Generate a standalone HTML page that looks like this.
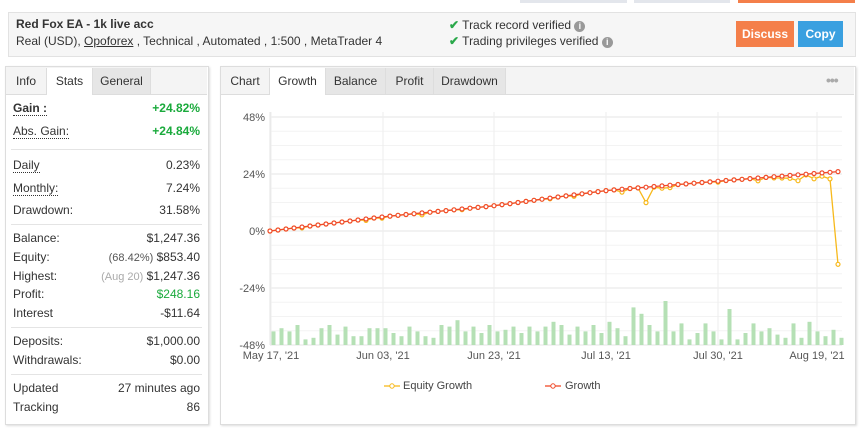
<!DOCTYPE html>
<html><head><meta charset="utf-8"><style>
body{margin:0;width:865px;height:432px;background:#fff;font-family:"Liberation Sans",sans-serif;font-size:12px;color:#333;position:relative;overflow:hidden}
.a{position:absolute}
.r{position:absolute;left:13px;width:187px;height:18px;line-height:18px}
.r span.v{position:absolute;right:0}
.u{border-bottom:1px dotted #333}
.hl{position:absolute;left:11px;width:191px;height:1px;background:#e4e4e4}
.tab{position:absolute;top:68px;height:26px;line-height:26px;text-align:center;font-size:12px;background:#e6e6e6;border-right:1px solid #ddd}
</style></head><body>
<div class="a" style="left:520px;top:0;width:107px;height:3px;background:#e3e6ec"></div>
<div class="a" style="left:634px;top:0;width:96px;height:3px;background:#e3e6ec"></div>
<div class="a" style="left:738px;top:0;width:117px;height:3px;background:#f47f4a"></div>

<div class="a" style="left:8px;top:12px;width:846px;height:43px;background:#f6f6f6;border:1px solid #e2e2e2"></div>
<div class="a" style="left:16px;top:17px;font-weight:bold;font-size:12px">Red Fox EA - 1k live acc</div>
<div class="a" style="left:16px;top:34px;font-size:12px">Real (USD), <span style="text-decoration:underline">Opoforex</span> , Technical , Automated , 1:500 , MetaTrader 4</div>
<div class="a" style="left:449px;top:18px;font-size:12px"><span style="color:#2aa84a;font-weight:bold">✔</span> Track record verified <span style="display:inline-block;width:11px;height:11px;border-radius:6px;background:#999;color:#fff;font-size:9px;text-align:center;line-height:11px;font-weight:bold">i</span></div>
<div class="a" style="left:449px;top:34px;font-size:12px"><span style="color:#2aa84a;font-weight:bold">✔</span> Trading privileges verified <span style="display:inline-block;width:11px;height:11px;border-radius:6px;background:#999;color:#fff;font-size:9px;text-align:center;line-height:11px;font-weight:bold">i</span></div>
<div class="a" style="left:736px;top:21px;width:58px;height:26px;background:#f47f4a;color:#fff;font-weight:bold;text-align:center;line-height:26px">Discuss</div>
<div class="a" style="left:798px;top:21px;width:45px;height:26px;background:#3aa0e0;color:#fff;font-weight:bold;text-align:center;line-height:26px">Copy</div>

<div class="a" style="left:5px;top:66px;width:202px;height:357px;border:1px solid #ddd;box-shadow:1px 1px 2px #ddd"></div>
<div class="a" style="left:6px;top:67px;width:201px;height:27px;background:#f4f4f4;border-bottom:1px solid #ddd"></div>
<div class="tab" style="left:6px;width:40px;background:#f4f4f4">Info</div>
<div class="tab" style="left:47px;width:45px;background:#fff;height:27px">Stats</div>
<div class="tab" style="left:93px;width:57px">General</div>

<div class="r" style="top:99px;font-weight:bold"><span class="u">Gain :</span><span class="v" style="color:#1aaa3c">+24.82%</span></div>
<div class="r" style="top:122px"><span class="u">Abs. Gain:</span><span class="v" style="color:#1aaa3c;font-weight:bold">+24.84%</span></div>
<div class="hl" style="top:149px"></div>
<div class="r" style="top:156px"><span class="u">Daily</span><span class="v">0.23%</span></div>
<div class="r" style="top:179px"><span class="u">Monthly:</span><span class="v">7.24%</span></div>
<div class="r" style="top:201px">Drawdown:<span class="v">31.58%</span></div>
<div class="hl" style="top:224px"></div>
<div class="r" style="top:229px">Balance:<span class="v">$1,247.36</span></div>
<div class="r" style="top:248px">Equity:<span class="v"><span style="font-size:11px;color:#555">(68.42%)</span> $853.40</span></div>
<div class="r" style="top:267px">Highest:<span class="v"><span style="font-size:11px;color:#aaa">(Aug 20)</span> $1,247.36</span></div>
<div class="r" style="top:285px">Profit:<span class="v" style="color:#1aaa3c">$248.16</span></div>
<div class="r" style="top:304px">Interest<span class="v">-$11.64</span></div>
<div class="hl" style="top:327px"></div>
<div class="r" style="top:332px">Deposits:<span class="v">$1,000.00</span></div>
<div class="r" style="top:351px">Withdrawals:<span class="v">$0.00</span></div>
<div class="hl" style="top:374px"></div>
<div class="r" style="top:379px">Updated<span class="v">27 minutes ago</span></div>
<div class="r" style="top:398px">Tracking<span class="v">86</span></div>

<div class="a" style="left:220px;top:66px;width:634px;height:357px;border:1px solid #ddd;box-shadow:1px 1px 2px #ddd"></div>
<div class="a" style="left:221px;top:67px;width:633px;height:27px;background:#f4f4f4;border-bottom:1px solid #ddd"></div>
<div class="tab" style="left:221px;width:48px;background:#f4f4f4">Chart</div>
<div class="tab" style="left:270px;width:55px;background:#fff;height:27px">Growth</div>
<div class="tab" style="left:326px;width:59px">Balance</div>
<div class="tab" style="left:386px;width:47px">Profit</div>
<div class="tab" style="left:434px;width:71px">Drawdown</div>
<div class="a" style="left:826px;top:72px;color:#aaa;font-size:14px;font-weight:bold;letter-spacing:-1px">•••</div>

<svg class="a" style="left:0;top:0" width="865" height="432" id="s" font-family="Liberation Sans, sans-serif"></svg>
<script>
var s=document.getElementById('s'),h='';
function Y(v){return 231-v*57/24}
var x0=270,x1=838;
for(var v=48;v>=-48;v-=6){var y=Y(v);h+='<line x1="'+x0+'" x2="'+(x1+4)+'" y1="'+y+'" y2="'+y+'" stroke="'+(v%24==0?'#e6e6e6':'#f3f3f3')+'"/>';}
[['48%',48],['24%',24],['0%',0],['-24%',-24],['-48%',-48]].forEach(function(t){h+='<text x="265" y="'+(Y(t[1])+4)+'" font-size="11" fill="#555" text-anchor="end">'+t[0]+'</text>'});
var lab=[['May 17, \'21',271],['Jun 03, \'21',383],['Jun 23, \'21',494],['Jul 13, \'21',606],['Jul 30, \'21',718],['Aug 19, \'21',817]];
lab.forEach(function(l){h+='<line x1="'+l[1]+'" x2="'+l[1]+'" y1="112" y2="345" stroke="#eee"/><text x="'+l[1]+'" y="359" font-size="11" fill="#555" text-anchor="middle">'+l[0]+'</text>'});
h+='<line x1="'+x0+'" x2="'+x0+'" y1="112" y2="345" stroke="#e6e6e6"/>';
var n=72,bars=[6,8,6,10,1,2,8,10,4,9,3,3,8,8,8,5,3,9,6,3,2,10,9,13,6,9,5,10,6,7,9,5,9,6,9,12,10,4,9,6,10,5,12,8,3,21,17,10,6,25,6,11,1,5,11,6,1,20,1,5,11,6,8,4,2,11,2,12,6,3,7,2,2];
for(var i=0;i<n;i++){var x=x0+(x1-x0)*i/(n-1);var b=(bars[i]||3)*1.6+4;h+='<rect x="'+(x+1.5)+'" y="'+(345-b)+'" width="4" height="'+b+'" fill="#b5e0b5"/>';}
var kn=[[0,0],[0.2,6],[0.39,10.5],[0.59,17],[0.79,21],[1,25]];
function gv(t){for(var j=1;j<kn.length;j++){if(t<=kn[j][0]){var a=kn[j-1],b=kn[j];return a[1]+(b[1]-a[1])*(t-a[0])/(b[0]-a[0]);}}return 25}
var g=[],e=[];
for(var i=0;i<n;i++){var v=gv(i/(n-1));g.push(v);e.push(v);}
var dips={4:-0.4,12:-0.6,14:-0.5,19:-0.8,24:-0.3,35:-0.3,38:-0.6,44:-1.2,47:-6.5,48:-0.3,49:-1,50:-1,56:-0.4,61:-1.2,63:-0.5,64:-0.8,65:-1.2,66:-2.5,67:-0.3,68:-2.2,69:-1.4,70:-2.8,71:-39};
for(var k in dips)e[k]+=dips[k];
function path(a,c){var p='';a.forEach(function(v,i){var x=x0+(x1-x0)*i/(n-1);p+=(i?'L':'M')+x.toFixed(1)+','+Y(v).toFixed(1)});var r='<path d="'+p+'" fill="none" stroke="'+c+'" stroke-width="1.3"/>';a.forEach(function(v,i){var x=x0+(x1-x0)*i/(n-1);r+='<circle cx="'+x.toFixed(1)+'" cy="'+Y(v).toFixed(1)+'" r="2" fill="#fff" stroke="'+c+'" stroke-width="1.2"/>'});return r}
h+=path(e,'#f7b91c')+path(g,'#f04a2a');
h+='<line x1="384" x2="400" y1="386" y2="386" stroke="#f7b91c" stroke-width="1.3"/><circle cx="392" cy="386" r="2.2" fill="#fff" stroke="#f7b91c"/><text x="403" y="389" font-size="11" fill="#444">Equity Growth</text>';
h+='<line x1="545" x2="561" y1="386" y2="386" stroke="#f04a2a" stroke-width="1.3"/><circle cx="553" cy="386" r="2.2" fill="#fff" stroke="#f04a2a"/><text x="565" y="389" font-size="11" fill="#444">Growth</text>';
s.innerHTML=h;
</script>
</body></html>
